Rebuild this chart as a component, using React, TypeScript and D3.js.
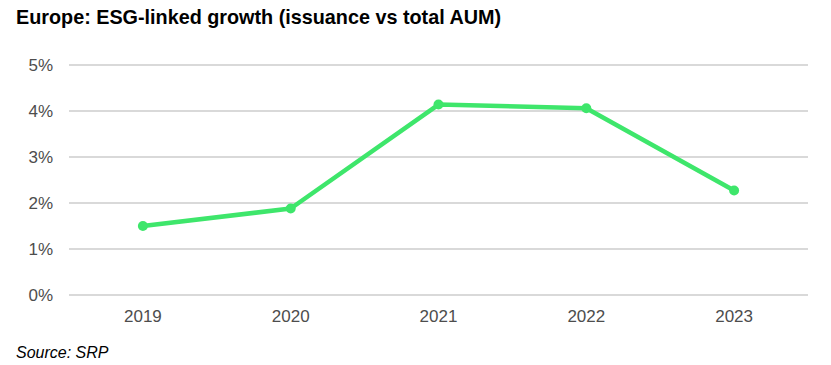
import React from 'react'
import * as d3 from 'd3'

const years = ['2019', '2020', '2021', '2022', '2023']
const growth = [1.5, 1.88, 4.14, 4.06, 2.27]
const yTicks = [0, 1, 2, 3, 4, 5]

export default function App() {
    const width = 831
    const height = 365
    const left = 69
    const right = 808
    const top = 65
    const bottom = 295

    const x = d3.scaleBand().domain(years).range([left, right]).padding(0)
    const y = d3.scaleLinear().domain([0, 5]).range([bottom, top])

    const pts = years.map((yr, i) => ({ x: x(yr) + x.bandwidth() / 2, y: y(growth[i]) }))
    const myLine = d3.line().x(d => d.x).y(d => d.y)

    return (
        <svg width={width} height={height} style={{ position: 'absolute', left: 0, top: 0 }}
            fontFamily="'Liberation Sans', Arial, sans-serif">
            <rect width={width} height={height} fill='#fff' />
            <text x={16} y={24} fontSize={19.8} fontWeight='bold' fill='#000'>
                Europe: ESG-linked growth (issuance vs total AUM)
            </text>
            {yTicks.map(t => (
                <g key={t}>
                    <line x1={left} x2={right} y1={y(t)} y2={y(t)} stroke='#d9d9d9' strokeWidth={2} />
                    <text x={53} y={y(t)} dy='0.35em' textAnchor='end' fontSize={17} fill='#4d4d4d'>{t}%</text>
                </g>
            ))}
            {years.map(yr => (
                <text key={yr} x={x(yr) + x.bandwidth() / 2} y={322} textAnchor='middle' fontSize={17} fill='#4d4d4d'>{yr}</text>
            ))}
            <path d={myLine(pts)} fill='none' stroke='#3ee66b' strokeWidth={4.5} strokeLinejoin='round' />
            {pts.map((p, i) => (
                <circle key={i} cx={p.x} cy={p.y} r={5} fill='#3ee66b' />
            ))}
            <text x={16} y={358} fontSize={16} fontStyle='italic' fill='#000'>Source: SRP</text>
        </svg>
    )
}
